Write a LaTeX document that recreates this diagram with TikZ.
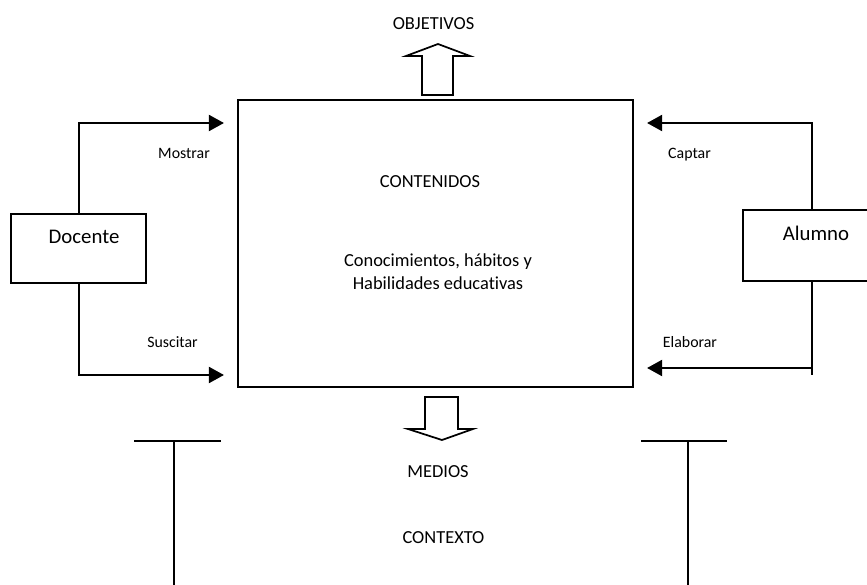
\documentclass[tikz,border=0pt]{standalone}
\usepackage{fontspec}
\setmainfont{Carlito}[Ligatures=NoCommon]
\usetikzlibrary{arrows.meta}
\begin{document}
\begin{tikzpicture}[x=0.75pt,y=-0.75pt,
  box/.style={draw, line width=1.6pt, inner sep=0pt},
  link/.style={line width=1.5pt},
  tip/.style={link, -{Triangle[length=11.25pt,width=12pt]}, shorten >=9.75pt},
  lbl/.style={font=\fontsize{11.9}{14}\selectfont, inner sep=0pt},
  big/.style={font=\fontsize{13.8}{17.25}\selectfont, inner sep=0pt, align=center},
  who/.style={font=\fontsize{15.6}{19}\selectfont, inner sep=0pt},
  blockarrow/.style={draw, line width=1.3pt, line join=miter, fill=white},
  bar/.style={line width=1.5pt}]
\useasboundingbox (0,0) rectangle (867,585);
\clip (0,0) rectangle (867,585);

% central box with its texts
\node[box, minimum width=296.25pt, minimum height=215.25pt] (main) at (435.5,243.5) {};
\node[big] (contenidos) at (430,182) {CONTENIDOS};
\node[big] (conoc) at (438,271.5) {Conocimientos, hábitos y\\Habilidades educativas};

% side boxes
\node[box, minimum width=101.25pt, minimum height=51.75pt] (docente) at (78.5,248.5) {};
\node[who] (docente-txt) at (84,237) {Docente};
\node[box, minimum width=103.5pt, minimum height=53.25pt] (alumno) at (812,245.5) {};
\node[who] (alumno-txt) at (816,233) {Alumno};

% teacher connectors
\draw[tip] (docente.north) |- (main.west |- 0,123);
\draw[tip] (docente.south) |- (main.west |- 0,375);
\node[lbl] (mostrar) at (184,153) {Mostrar};
\node[lbl] (suscitar) at (172.5,342) {Suscitar};

% student connectors
\draw[tip] (alumno.north) |- (main.east |- 0,123);
\draw[link] (alumno.south) -- (alumno.south |- 0,375);
\draw[tip] (alumno.south |- 0,368) -- (main.east |- 0,368);
\node[lbl] (captar) at (689.5,155) {Captar};
\node[lbl] (elaborar) at (690,342) {Elaborar};

% objectives (up) and means (down) block arrows
\draw[blockarrow] (422,95) -- (422,56) -- (406,56) -- (438,44) -- (470,56)
  -- (453,56) -- (453,95) -- cycle;
\node[big] (objetivos) at (433.5,24) {OBJETIVOS};
\draw[blockarrow] (425,397) -- (425,429) -- (408,429) -- (442,440) -- (473,429)
  -- (458,429) -- (458,397) -- cycle;
\node[big] (medios) at (438,472) {MEDIOS};
\node[big] (contexto) at (443.5,538) {CONTEXTO};

% context posts
\draw[bar] (134,441) -- (221,441);
\draw[bar] (174,441) -- (174,585);
\draw[bar] (641,441) -- (727,441);
\draw[bar] (688,441) -- (688,585);
\end{tikzpicture}
\end{document}
